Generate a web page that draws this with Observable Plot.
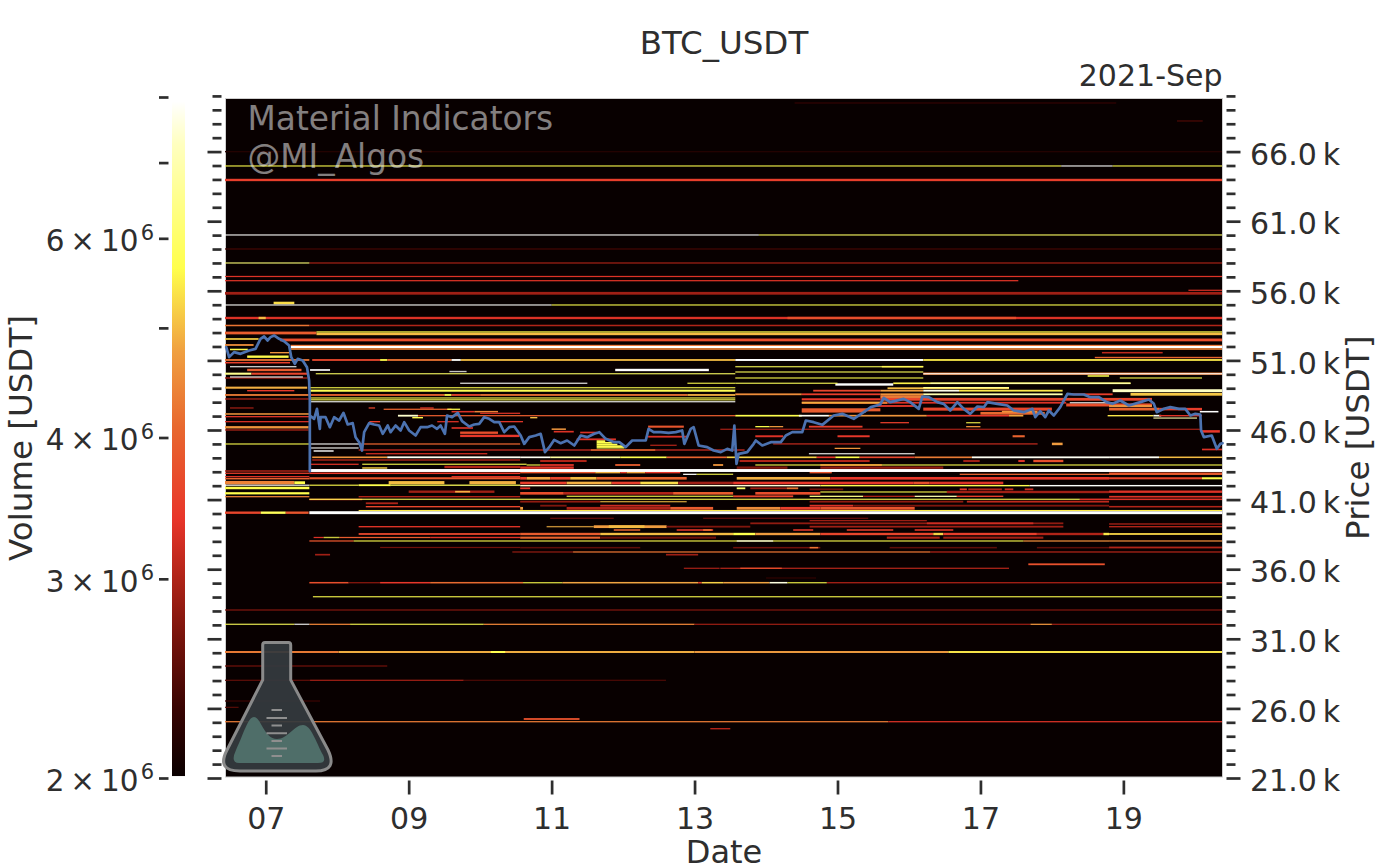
<!DOCTYPE html>
<html><head><meta charset="utf-8">
<script src="https://cdn.jsdelivr.net/npm/d3@7"></script>
<script src="https://cdn.jsdelivr.net/npm/@observablehq/plot@0.6"></script>
<style>
html,body{margin:0;padding:0;background:#fff;}
#wrap{position:relative;width:1394px;height:864px;overflow:hidden;font-family:"DejaVu Sans";}
#wrap>svg{position:absolute;left:0;top:0;}
#wrap svg g[aria-label="rect"]{filter:blur(0.5px);}
</style></head><body><div id="wrap"></div>
<script>
const titleText = "BTC_USDT", monthText = "2021-Sep";
const dayTicks = [7,9,11,13,15,17,19];
const priceMajor = [21000,26000,31000,36000,41000,46000,51000,56000,61000,66000];
const priceMinor = [22000,23000,24000,25000,27000,28000,29000,30000,32000,33000,34000,35000,37000,38000,39000,40000,42000,43000,44000,45000,47000,48000,49000,50000,52000,53000,54000,55000,57000,58000,59000,60000,62000,63000,64000,65000,67000,68000,69000,70000];
const volumeLabelled = [2e6,3e6,4e6,6e6];
const volumeUnlabelled = [5e6,7e6,8e6];
const colorVolumes = [2.0e6,2.3e6,2.67e6,3.0e6,3.38e6,4.08e6,4.76e6,5.64e6,7.27e6,7.93e6];
const colorStops = ["#0a0000","#3a0402","#7a140c","#b02418","#e8352a","#e8682f","#f0a040","#ffff4c","#ffffc0","#ffffff"];

// price, thickness (USD), first day, last day, volume (millions)
const bandsTop = [
[69492,90,14.4,18.9,2.25],[68200,90,19.75,20.11,2.4],[65995,100,6.43,20.38,2.15],[63961,170,6.43,20.38,3.5],
[59004,90,6.43,20.38,2.35],[57998,90,7.61,20.38,2.9],[57028,90,6.43,20.38,3.3],[56726,90,6.43,17.53,3.3],
[56036,90,19.91,20.38,3.2],[55821,200,6.43,20.38,2.9],[55125,180,7.11,7.4,5.3],[54046,170,6.43,20.38,3.3],
[54046,170,14.3,17.5,3.7],[54046,170,6.9,7.0,5.0],[53508,110,7.61,20.38,3.0],[53508,110,6.43,7.61,4.2],
[52969,200,6.43,7.71,3.9],[53041,90,7.71,20.38,5.65],[52897,170,7.71,20.38,5.0],[52470,200,7.2,20.38,3.7],
[52070,100,7.35,20.38,4.2],[51820,120,7.35,20.38,4.4],[51964,150,7.35,20.38,7.95],[51554,110,18.7,19.55,3.1],[51207,100,18.6,20.38,4.0]
];
const bandsBeforeDrop = [
[52538,120,6.43,6.9,5.2],[52107,130,6.43,6.83,4.5],[51784,110,6.5,6.75,5.6],[51554,100,7.06,7.33,4.6],
[51267,170,6.74,7.32,5.6],[51030,130,6.43,7.61,4.2],[50836,110,6.43,7.34,3.5],[50311,170,6.74,7.5,3.9],
[50045,150,6.43,6.8,6.5],[50045,150,6.8,7.58,3.6],[49736,100,6.43,7.58,2.9],[49040,150,6.43,7.58,4.9],
[48824,100,6.74,7.4,3.4],[48516,130,6.43,7.6,4.3],[48228,90,6.43,7.6,3.0],[47582,90,6.5,6.83,2.9],
[47151,110,6.43,7.61,4.6],[46957,90,6.43,7.61,3.4],[46598,90,6.43,7.61,3.3],[46195,170,6.43,7.6,4.6],
[46001,90,6.43,7.6,3.0],[43055,100,6.43,7.61,3.0],[42890,90,6.43,7.61,3.5],[42646,90,6.43,7.61,3.4],
[42500,100,6.43,7.61,4.0],[42215,250,6.43,7.4,4.4],[42215,200,7.4,7.55,5.65],[42035,80,6.43,7.61,7.9],
[41834,180,6.43,7.61,5.65],[41453,160,6.43,7.61,5.65],[41209,90,6.43,7.61,4.4],[40060,170,6.43,6.93,3.6],
[40060,170,6.93,7.28,5.8],[40060,170,7.28,7.6,3.8]
];
const bandsMiddle = [
[51030,130,7.65,8.6,3.6],[51030,130,8.6,8.7,5.6],[51030,130,8.7,9.6,4.2],[51030,130,9.6,9.73,7.9],[51030,130,9.73,13.57,5.0],
[51030,140,13.57,16.2,7.95],[51030,130,16.2,20.38,5.4],[50311,120,7.62,7.9,7.95],[50311,170,11.89,13.2,7.95],
[48824,150,7.61,13.57,5.75],[48516,130,7.61,9.5,4.0],[48516,130,9.5,9.6,5.6],[48516,130,9.6,10.0,3.6],[48516,130,10.0,12.9,4.2],[48516,130,12.9,13.57,4.9],
[47582,90,8.44,8.53,3.6],[47580,90,9.16,9.35,3.4],[47489,90,8.65,9.6,4.0],[47489,90,9.54,9.72,5.6],[47316,110,9.6,9.92,3.3],[47316,110,9.92,10.25,4.4],[47200,90,10.0,10.56,3.3],
[47028,130,8.85,9.13,7.4],[47028,90,9.13,13.57,3.9],[46885,100,9.05,9.2,5.6],[46885,100,10.7,10.8,5.0],
[46598,100,8.45,8.6,3.5],[46598,100,9.4,9.7,3.2],[46598,90,10.2,10.6,3.4],[46144,110,9.6,9.9,3.4],[46060,110,11.0,11.2,4.6],[45880,120,11.03,11.31,3.3],[45820,120,11.4,11.63,3.3],[45806,170,9.72,10.25,3.7],
[45575,170,9.72,10.55,3.4],[45330,130,11.35,11.9,3.3],[46240,150,12.35,12.85,3.8],[45520,130,12.35,12.9,3.3],[44900,100,12.38,12.75,2.9],[44995,90,8.32,10.56,4.0],
[45200,120,11.63,11.75,5.65],[45080,120,11.63,11.85,5.65],[44960,120,11.63,11.92,5.65],[44840,120,11.63,12.0,5.65],[44720,100,11.63,12.02,5.65],
[44492,100,7.67,7.95,7.95],[44563,90,8.3,13.7,3.2],[44563,90,11.55,12.45,4.2],[44298,100,8.4,10.1,3.1]
];
const bandsLowerLeft = [
[44039,120,7.65,8.7,4.6],[44039,130,8.7,10.56,7.8],[43846,100,7.65,10.56,3.0],[43537,90,7.61,8.3,3.3],[43344,170,9.5,10.56,3.0],[43271,100,8.35,8.7,5.2],
[42890,110,7.61,10.56,3.4],[42646,100,9.6,10.56,3.3],[42531,150,7.61,10.56,3.8],[42215,230,8.72,9.5,5.0],[42215,230,9.85,10.5,4.9],
[42035,80,7.61,8.3,5.6],[42035,130,8.3,8.75,5.65],[42035,90,8.75,10.56,5.8],[41568,170,9.0,10.2,2.9],[41568,120,9.65,9.86,4.9],
[41209,100,8.3,10.56,3.0],[41008,100,7.61,8.35,3.4],[40735,130,8.4,8.85,3.0],[40491,100,8.4,10.56,3.6],[40210,90,8.3,20.38,5.4],
[39054,100,8.3,10.56,3.3],[38530,130,8.3,10.56,3.6],[38278,90,7.67,7.81,3.3],[38278,90,8.03,9.3,3.9],[38278,100,9.3,10.56,3.3],[38027,90,7.61,8.23,3.8],[37560,90,8.6,10.56,2.6]
];
const bandsLowerDetail = [
[44037,120,10.56,10.98,7.8],[44037,120,10.98,11.96,6.8],[44037,120,11.96,12.61,5.65],[44037,120,12.61,13.45,4.0],[44037,120,13.45,14.71,5.2],[44037,120,14.71,14.97,3.4],[44037,120,14.97,15.31,5.65],[44037,120,15.31,16.08,3.6],[44037,120,16.08,16.88,4.3],[44037,130,16.88,18.8,7.8],
[43774,150,10.84,11.49,3.0],[43774,150,13.63,15.45,3.0],[43774,150,16.76,16.99,2.9],[43774,150,17.53,17.62,3.3],[43774,170,17.74,18.16,3.7],
[43486,130,10.84,11.31,3.3],[43486,130,11.89,12.24,3.9],[43486,130,13.26,13.4,4.6],[43486,130,14.76,15.62,3.2],
[43295,170,10.56,11.31,3.3],[43295,170,13.59,14.3,2.7],[43295,170,14.76,16.48,2.8],
[42960,150,10.56,11.61,3.8],[42960,150,11.61,11.96,4.9],[42960,150,11.96,12.05,3.5],[42960,150,12.05,12.31,4.8],[42960,150,12.31,12.8,3.4],[42960,150,14.61,14.92,3.8],
[42816,90,12.84,13.03,7.9],[42816,90,16.71,20.38,4.0],
[42530,190,10.56,10.65,3.5],[42530,190,10.65,10.98,4.8],[42530,190,10.98,11.26,3.6],[42530,190,11.26,11.63,5.0],[42530,190,11.63,12.89,4.0],[42530,190,13.59,14.9,4.9],[42530,190,14.9,18.8,3.4],
[42193,190,10.56,11.21,3.5],[42193,190,11.21,11.84,4.9],[42193,190,11.84,12.24,3.5],[42193,190,12.24,12.77,5.3],[42193,190,12.77,13.54,2.9],[42193,190,13.54,16.06,3.4],[42193,190,16.06,16.29,3.7],[42193,190,16.29,17.32,3.3],
[42002,100,10.56,14.76,7.5],[42002,100,14.76,17.69,5.7],[42002,100,17.69,20.38,7.9],
[41810,130,10.56,10.7,3.4],[41810,130,13.59,13.71,6.0],[41810,130,13.78,14.29,2.9],[41810,130,14.29,14.45,4.2],
[41738,130,14.61,15.08,2.6],[41738,130,16.71,16.81,3.4],[41738,130,16.83,17.3,3.0],[41738,130,17.34,17.46,3.2],[41738,130,17.62,17.74,3.2],
[41451,190,10.56,11.17,3.7],[41451,190,11.17,12.7,3.0],[41451,190,12.7,13.54,3.9],[41451,190,13.85,14.76,3.7],[41547,170,16.53,18.8,2.9],
[41235,130,13.54,14.38,3.6],[41235,90,14.61,15.36,6.4],[41235,90,15.36,16.08,3.0],[41235,90,16.08,16.67,7.0],[41235,100,16.67,17.32,3.5],
[41020,110,18.39,20.38,3.3],[40852,130,10.56,11.68,2.8],[40852,130,14.61,16.76,2.8],[40852,130,16.81,18.8,3.1],
[40564,130,10.84,11.21,2.7],[40564,130,11.68,12.66,3.2],[40564,130,14.61,15.22,3.3],[40564,130,15.22,18.8,2.7],
[40373,200,10.56,10.6,4.7],[40373,200,11.21,12.66,3.0],[40373,200,12.66,13.26,3.9],[40373,200,13.59,14.2,4.5],[40373,200,14.2,14.76,3.5],[40373,200,14.76,16.08,3.8],
[39654,100,10.98,11.87,2.5],[39654,100,13.12,15.43,2.5],[39487,90,14.61,16.25,2.9],[39295,130,13.78,18.16,2.8],[39295,130,16.25,17.74,3.2],
[39056,200,11.59,12.61,4.7],[39056,200,11.8,12.3,5.0],[39056,130,12.61,13.78,2.7],[39056,130,14.61,18.16,2.9],
[38816,110,11.87,12.24,4.0],[38816,110,12.75,13.26,3.4],[38816,110,13.12,13.24,4.2],[38816,110,14.38,14.66,3.4],[38816,110,15.13,15.78,3.5],[38816,110,16.08,16.62,3.4],
[38529,170,10.56,11.68,3.9],[38529,170,11.68,13.54,5.0],[38529,170,13.54,13.85,5.65],[38529,170,13.85,14.76,4.7],[38529,170,14.76,16.34,3.6],[38529,170,16.34,16.48,5.2],[38529,170,16.48,17.79,3.5],[38529,170,17.79,18.72,3.0],[38529,170,18.72,18.8,5.4],
[38266,150,10.56,11.68,4.0],[38266,150,11.68,13.3,2.6],[38266,150,15.69,16.43,3.0],[38266,150,16.48,17.88,2.9],[38026,90,17.6,18.8,4.5],
[37547,110,10.56,12.24,2.5],[37547,110,13.54,14.76,2.6],[37547,110,14.61,14.73,4.2],[37547,110,15.73,17.23,2.5],[37547,110,17.79,18.8,2.5]
];
const bandsLowerRight = [
[44039,130,18.8,19.5,7.8],[44039,110,19.5,20.38,5.0],[42890,110,18.8,20.38,3.8],[42531,150,18.8,20.1,3.6],[42531,150,20.1,20.38,5.6],
[41568,170,18.8,20.38,3.3],[41209,120,18.8,20.38,3.3],[40491,110,18.8,20.38,3.0],[39248,100,18.8,20.38,2.9],[39054,100,18.8,20.38,3.0],
[38530,130,18.8,20.38,5.2],[38027,90,18.8,20.38,4.5],[37560,130,18.8,20.38,3.0]
];
const bandsWhiteLevels = [[43090,210,7.61,20.38,7.95],[40060,210,7.61,20.38,7.95]];
const bandsBottom = [
[37237,90,10.45,11.3,2.8],[37237,90,11.3,16.3,4.2],[37237,90,16.3,20.38,3.0],
[37043,120,7.69,7.9,2.9],[37043,120,12.6,13.05,2.9],[36353,130,17.67,18.74,3.75],[36065,90,12.85,13.35,2.9],[36065,90,13.36,17.4,3.0],[36065,90,13.64,14.22,3.7],
[35368,70,14.0,14.7,2.3],[35030,110,7.61,8.16,3.7],[35030,100,8.16,8.6,2.7],[35030,110,8.6,9.3,3.4],[35030,110,9.3,10.6,4.1],[35030,110,11.15,13.05,4.8],[35030,110,13.05,13.1,3.5],[35030,110,13.1,13.4,5.2],[35030,110,13.4,14.05,4.8],[35030,110,14.05,14.3,7.6],[35030,100,14.85,20.38,2.9],
[33069,90,6.43,20.38,2.7],[32041,90,7.61,8.18,4.4],[32041,90,10.05,13.0,4.4],[32041,90,13.0,17.7,2.85],[32041,90,17.7,18.0,4.6],[32041,90,18.0,20.38,2.85],
[30052,140,6.43,8.02,4.3],[30052,140,8.02,13.0,4.9],[30052,140,10.15,10.35,5.7],[30052,140,13.0,16.55,4.7],[30052,140,16.55,20.38,5.4],
[29046,90,6.43,8.7,2.6],[28019,90,6.43,7.62,2.5],[28019,90,7.62,9.77,2.9],[28019,90,9.77,12.6,2.4],[26532,90,6.43,7.76,2.3],[26079,80,6.43,6.62,2.5],
[25239,130,10.61,11.39,3.75],[25044,90,6.43,15.71,4.3],[25044,90,15.71,20.38,3.3],[24542,100,13.22,13.5,3.0]
];
const bandsRightUpper = [
[50549,110,15.62,16.2,5.3],[50045,170,16.2,20.38,4.3],[49880,110,18.5,18.8,5.6],[49270,170,14.97,15.78,7.95],[49356,120,15.78,19.1,5.5],[49356,90,16.3,19.1,7.0],
[49000,130,15.7,17.4,5.0],[49040,100,16.2,17.4,6.5],[48824,130,14.66,15.6,3.6],[48824,130,15.6,16.2,4.7],[48824,130,16.2,16.7,7.7],[48824,130,16.7,18.15,5.4],[48824,210,18.85,20.38,7.3],
[48565,130,13.57,14.5,4.5],[48565,130,14.5,15.6,3.5],[48565,130,15.6,16.2,4.6],[48565,130,16.2,18.15,7.0],[48565,130,18.25,18.85,3.5],[48565,200,19.1,20.38,5.1],
[48205,150,14.5,15.6,3.4],[48205,200,15.6,19.4,3.6],[48400,200,15.6,16.2,4.3],[47960,170,14.5,15.7,4.3],[47960,130,15.7,18.2,3.3],[47800,220,18.2,19.4,3.7],[47725,150,18.8,19.4,4.6],[47725,130,15.5,16.1,3.4],
[47500,220,16.2,18.0,3.6],[47500,200,18.8,19.5,4.0],[47500,180,19.5,20.1,3.5],[47450,220,14.5,15.6,3.9],[47200,200,17.0,17.9,4.1],
[47316,110,20.07,20.33,7.95],[47316,130,14.5,15.4,3.9],[47316,130,17.3,17.8,4.6],[47028,120,13.57,14.5,5.65],[47028,120,14.46,14.88,7.8],[47028,120,14.88,16.25,4.6],[47028,120,16.25,17.4,3.4],[47028,120,17.4,17.6,4.8],
[47028,100,18.78,19.42,5.4],[47028,120,19.42,19.53,7.7],[47028,100,19.5,20.1,3.3],[46525,90,15.6,16.0,3.5],[46240,90,13.85,14.05,5.65],[46240,90,14.05,14.24,4.7],[46240,130,14.6,15.35,3.5],[46240,90,16.8,17.0,4.6],
[46051,90,13.36,20.07,2.9],[45900,180,20.1,20.35,3.4],[45550,140,13.85,14.24,3.3],[45550,140,15.0,15.45,3.4],[45550,150,17.45,17.62,4.0],[45000,90,14.1,17.8,3.1],[45000,180,18.0,18.15,4.7],[44680,90,14.96,15.32,4.6],[44600,120,20.1,20.38,3.3]
];
// thin resting orders: price, first day, last day, volume (millions)
const thinLines = [
[64967,6.43,18.13,5.65],[64967,18.13,18.85,7.9],[64967,18.85,20.38,5.65],[60010,6.43,13.9,7.9],[60010,13.9,20.38,5.9],[57998,6.43,7.61,6.2],
[54981,6.43,11.0,7.9],[54981,11.0,20.38,5.65],[50549,6.5,7.43,7.9],[49808,6.5,7.52,7.9],[44995,6.43,7.61,5.65],
[50200,9.57,9.81,7.9],[50045,7.7,13.57,5.9],[49356,9.72,11.5,7.9],[49356,12.9,13.57,5.6],[49040,7.61,13.57,5.65],
[48300,7.61,13.57,5.65],[48170,7.61,13.57,5.65],[48034,7.61,13.57,7.9],[44995,7.61,8.32,7.9],[44708,7.61,8.3,7.9],
[44298,14.6,16.08,7.9],[43537,8.35,10.65,5.65],[43486,10.65,10.84,5.65],[43486,13.85,20.38,5.65],[42816,13.03,13.54,5.65],[41547,14.76,16.53,5.6],[41235,11.21,13.54,5.65],
[41020,7.61,18.39,5.75],[40852,11.68,12.89,5.0],[39056,10.93,11.59,4.9],[38278,7.81,8.03,5.65],[38027,8.23,17.6,5.65],[38027,13.59,14.1,7.9],[35030,10.6,11.15,5.65],[35030,14.3,14.85,5.65],
[34024,7.66,20.38,5.65],[32041,6.43,7.4,5.8],[32041,7.4,7.61,7.9],[32041,8.18,10.05,5.7],
[50549,13.57,16.2,5.8],[50167,13.57,16.2,5.8],[50045,16.2,20.38,7.9],[49736,13.57,16.2,5.65],[49736,18.95,20.1,5.65],[49356,13.57,15.0,5.8],
[47960,14.5,15.6,5.0],[47960,18.25,18.85,7.9],[46857,19.42,20.03,7.0],[46525,16.8,17.0,5.6]
];
const priceDays = [6.44,6.48,6.55,6.64,6.76,6.85,6.92,6.97,7.02,7.06,7.11,7.18,7.25,7.32,7.35,7.40,7.44,7.51,7.57,7.60,7.61,7.61,7.61,7.67,7.71,7.75,7.76,7.83,7.89,7.95,8.02,8.08,8.14,8.21,8.25,8.30,8.34,8.37,8.44,8.51,8.58,8.63,8.70,8.74,8.81,8.88,8.93,9.00,9.09,9.16,9.25,9.32,9.39,9.44,9.50,9.53,9.60,9.68,9.74,9.84,9.91,9.98,10.05,10.12,10.19,10.26,10.33,10.40,10.47,10.56,10.61,10.68,10.77,10.84,10.90,10.96,11.03,11.12,11.21,11.31,11.40,11.49,11.59,11.66,11.75,11.87,11.94,12.03,12.12,12.24,12.31,12.35,12.42,12.52,12.63,12.73,12.82,12.85,12.94,12.98,13.05,13.17,13.26,13.36,13.45,13.52,13.55,13.58,13.61,13.73,13.82,13.85,13.94,14.06,14.20,14.27,14.36,14.50,14.55,14.66,14.78,14.94,15.06,15.22,15.36,15.46,15.59,15.64,15.73,15.92,16.01,16.13,16.18,16.27,16.39,16.48,16.57,16.67,16.76,16.85,16.95,17.04,17.09,17.23,17.37,17.46,17.60,17.72,17.76,17.83,17.90,17.95,18.02,18.11,18.21,18.30,18.44,18.53,18.65,18.76,18.84,18.95,19.07,19.23,19.35,19.42,19.46,19.56,19.65,19.77,19.86,19.93,20.00,20.07,20.08,20.12,20.23,20.30,20.35,20.38];
const priceValues = [51987,51269,51628,51508,51748,51867,52586,52753,52466,52706,52825,52586,52418,52107,51269,50790,51149,51029,50550,49592,48155,43078,47077,46838,47556,46119,46958,46958,46239,46958,46718,47269,46431,46526,45521,45161,44563,45880,46526,46431,46359,45760,46359,45880,46359,45999,46598,45999,45640,46239,46239,46359,46119,46359,45760,47077,46958,47269,46670,46287,46431,46479,46958,46838,46598,46598,45880,46239,46287,45640,45041,45521,45640,45760,44443,44802,45329,45089,45281,44922,45640,45521,45760,45880,45401,45161,45161,44802,45281,45281,45281,46119,45880,45880,45832,45880,46000,45041,46119,46239,44922,44802,44563,44443,44682,44563,46359,43605,44323,44443,45041,45281,44922,45161,45161,45640,45880,45880,46718,46598,46407,47077,47197,46838,47317,47676,47868,48347,48035,48275,48035,47556,48442,48395,48035,47916,47436,48035,47556,47197,47724,47676,48035,47916,47796,47436,47317,47556,46958,47389,46958,47436,47077,47676,48634,48586,48586,48395,48395,48035,47916,48155,47796,48035,48227,47916,47317,47556,47676,47556,47556,47077,47197,47148,46000,45521,45640,44682,45041,45089];

const bands = [...bandsTop,...bandsBeforeDrop,...bandsMiddle,...bandsLowerLeft,...bandsLowerDetail,...bandsLowerRight,...bandsBottom,...bandsRightUpper,...bandsWhiteLevels];
const colorOptions = {type:"log",domain:colorVolumes,range:colorStops,clamp:true};
const pricePoints = priceDays.map((d,i)=>[d,priceValues[i]]);
const fontFamily = "DejaVu Sans", ink = "#2e2e2e";
const axisStyle = {strokeWidth:2.7,fontSize:30,label:null};

const main = Plot.plot({
  width:1394,height:864,marginTop:98,marginRight:172,marginBottom:87.5,marginLeft:225,
  style:{background:"transparent",fontFamily,color:ink},
  x:{domain:[6.43,20.38],label:null,axis:null},
  y:{domain:[21108,69850],label:null,axis:null},
  color:colorOptions,
  marks:[
    Plot.frame({fill:"#080000",stroke:"#cfcfcf"}),
    Plot.rect(bands,{x1:d=>d[2],x2:d=>d[3],y1:d=>d[0]-d[1]/2,y2:d=>d[0]+d[1]/2,fill:d=>d[4]*1e6}),
    Plot.rect(thinLines,{x1:d=>d[1],x2:d=>d[2],y1:d=>d[0]-50,y2:d=>d[0]+50,fill:d=>d[3]*1e6,fillOpacity:0.78}),
    Plot.line(pricePoints,{x:d=>d[0],y:d=>d[1],stroke:"#4c72b0",strokeWidth:2.7,strokeLinejoin:"round"}),
    Plot.text(["Material Indicators"],{frameAnchor:"top-left",dx:22,dy:8,fontSize:32.8,fill:"#fff",fillOpacity:0.5}),
    Plot.text(["@MI_Algos"],{frameAnchor:"top-left",dx:22,dy:46,fontSize:32.8,fill:"#fff",fillOpacity:0.5}),
    Plot.axisX({...axisStyle,ticks:dayTicks,tickSize:14,dy:4,tickPadding:13,tickFormat:d=>String(d).padStart(2,"0")}),
    Plot.axisY({...axisStyle,anchor:"right",ticks:priceMajor,tickSize:14,dx:3.5,fill:"none"}),
    Plot.axisY({...axisStyle,anchor:"right",ticks:priceMajor,tickSize:0,stroke:"none",dx:3.5,dy:3,tickPadding:24,tickFormat:d=>(d/1000).toFixed(1)+"\u2009k"}),
    Plot.axisY({...axisStyle,anchor:"right",ticks:priceMinor,tickSize:9,dx:3.5,fill:"none"}),
    Plot.axisY({...axisStyle,anchor:"left",ticks:priceMajor,tickSize:14,dx:-3.5,fill:"none"}),
    Plot.axisY({...axisStyle,anchor:"left",ticks:priceMinor,tickSize:9,dx:-3.5,fill:"none"}),
    Plot.text([titleText],{frameAnchor:"top",dy:-55,fontSize:32.5,fill:ink,lineAnchor:"middle"}),
    Plot.text([monthText],{frameAnchor:"top-right",dy:-22,fontSize:30,fill:ink,lineAnchor:"middle",textAnchor:"end"}),
    Plot.text(["Date"],{frameAnchor:"bottom",dy:75.5,fontSize:32,fill:ink,lineAnchor:"middle"}),
    Plot.text(["Price [USDT]"],{frameAnchor:"right",dx:136,fontSize:32.5,fill:ink,rotate:-90,textAnchor:"middle"})
  ]
});

const mantissaFormat = d => `${d/1e6}\u2009\u00d7\u200910`;
const bar = Plot.plot({
  width:186,height:864,marginTop:97,marginRight:1,marginBottom:86,marginLeft:172,
  style:{background:"transparent",fontFamily,color:ink},
  x:{axis:null},
  y:{type:"log",domain:[2e6,8e6],range:[778,97],axis:null},
  marks:[
    () => {
      const defs = d3.create("svg:defs");
      const g = defs.append("linearGradient").attr("id","volgrad").attr("x1",0).attr("y1",1).attr("x2",0).attr("y2",0);
      colorVolumes.forEach((v,i)=>g.append("stop").attr("offset",Math.log(v/colorVolumes[0])/Math.log(colorVolumes[colorVolumes.length-1]/colorVolumes[0])).attr("stop-color",colorStops[i]));
      return defs.node();
    },
    Plot.rect([colorVolumes],{y1:d=>d[0]*1.004,y2:d=>d[d.length-1],fill:"url(#volgrad)"}),
    Plot.axisY({...axisStyle,anchor:"left",ticks:volumeLabelled,tickSize:9.5,dx:-3.5,fill:"none"}),
    Plot.axisY({...axisStyle,anchor:"left",ticks:volumeLabelled,tickSize:0,stroke:"none",dx:-3.5,dy:3,tickPadding:30.5,fontSize:29.5,tickFormat:mantissaFormat}),
    Plot.text(volumeLabelled,{y:d=>d,text:()=>"6",frameAnchor:"left",dx:-18.5,dy:-6,fontSize:21,fill:ink,textAnchor:"end"}),
    Plot.axisY({...axisStyle,anchor:"left",ticks:volumeUnlabelled,tickSize:9.5,dx:-3.5,fill:"none"}),
    Plot.text(["Volume [USDT]"],{frameAnchor:"left",dx:-151,fontSize:32.5,fill:ink,rotate:-90,textAnchor:"middle"})
  ]
});
const wrap = document.getElementById("wrap");
wrap.append(main, bar);

// Material Indicators flask watermark
const ns = "http://www.w3.org/2000/svg";
const flask = document.createElementNS(ns,"svg");
flask.setAttribute("width",1394);flask.setAttribute("height",864);
flask.innerHTML = `
<path d="M262.7 645 Q262.7 642.5 265 642.5 L288.5 642.5 Q290.7 642.5 290.7 645 L290.7 680 L328 750 Q338 771 316 771 L240 771 Q216 771 227 750 L262.7 680 Z" fill="#34393e" fill-opacity="0.94" stroke="#8a8a8a" stroke-width="3"/>
<path d="M236 750 C244 733 248 717 254 717 C261 717 264 739 277 739 C288 739 294 725 303 725 C311 725 316 742 323 755 Q327 763 318 763 L239 763 Q230 763 236 750 Z" fill="#4f6e69"/>
<g stroke="#8f8f8f" stroke-width="2">
<path d="M271.5 710H282M266.5 718H287M271.5 725.5H282M266.5 733.3H287M271.5 741H282M266.5 748.5H287M271.5 756H282"/></g>`;
wrap.append(flask);
</script></body></html>
